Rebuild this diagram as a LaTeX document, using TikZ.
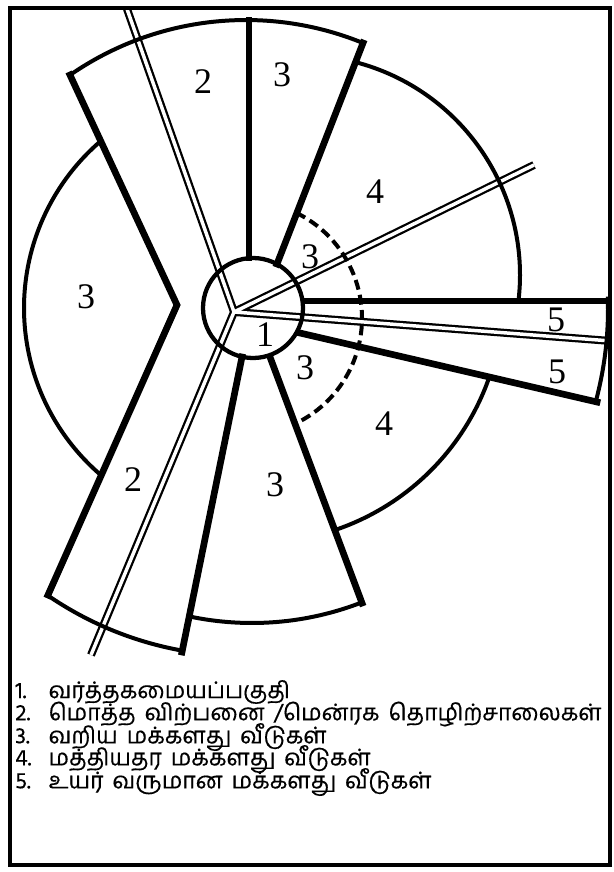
\documentclass[tikz,border=0pt]{standalone}
\usepackage{fontspec}
\newfontfamily\tamilfont[Script=Tamil, FakeBold=0.4, WordSpace=1.6]{Hind Madurai}
\newfontfamily\digitfont{Liberation Serif}

\begin{document}
\begin{tikzpicture}[
  x=0.75pt, y=-0.75pt,
  road/.style={line width=1.7pt, double=white, double distance=2.6pt},
  wall/.style={line width=5pt, line cap=rect},
  rim/.style={line width=3pt},
  zone/.style={font=\digitfont\fontsize{27}{27}\selectfont, inner sep=0pt},
  key/.style={anchor=west, font=\tamilfont\fontsize{17.2}{17.2}\selectfont, inner sep=0pt}
]
\useasboundingbox (0,0) rectangle (614,872);
% roads
\coordinate (J)   at (234,312);
\coordinate (rdA) at (127,9);
\coordinate (rdB) at (91,655);
\coordinate (rdC) at (534,165);
\coordinate (rdD) at (611,341);
\draw[road] (rdA) -- (J) -- (rdB) (J) -- (rdC) (J) -- (rdD);
% sector walls
\draw[wall, line join=miter] (48,595) -- (177,305) -- (70,75);
\draw[wall] (249,20) -- (249,258);
\draw[wall] (363,43) -- (277,264);
\draw[wall] (242,357) -- (182,652);
\draw[wall] (270,357) -- (362,603);
\draw[wall] (305,301) -- (607,301);
\draw[wall] (300,333) -- (597,402);
% outer rims
\coordinate (cTop) at (246,329);
\coordinate (cLft) at (244,308);
\coordinate (cUp4) at (300,275);
\coordinate (cLo4) at (256,296);
\coordinate (cLo3) at (252,320);
\coordinate (cLo2) at (243,311);
\coordinate (cHi5) at (252,309);
\coordinate (cIn3) at (245,318);
\draw[rim] (cTop) ++(-124.7:309) arc[start angle=-124.7, end angle=-67.7, radius=309];
\draw[rim] (cLft) ++(-130.9:220) arc[start angle=-130.9, end angle=-229.5, radius=220];
\draw[rim] (cUp4) ++(-75.5:220) arc[start angle=-75.5, end angle=6.8, radius=220];
\draw[rim] (cLo4) ++(19.2:247) arc[start angle=19.2, end angle=70.9, radius=247];
\draw[rim] (cLo3) ++(101.9:303) arc[start angle=101.9, end angle=68.8, radius=303];
\draw[rim] (cLo2) ++(124.5:345) arc[start angle=124.5, end angle=100.2, radius=345];
\draw[rim] (cHi5) ++(-2:356) arc[start angle=-2, end angle=15.1, radius=356];
\draw[rim, dash pattern=on 7.5pt off 4pt] (cIn3) ++(-64:117) arc[start angle=-64, end angle=64, radius=117];
% central business district
\draw[line width=3.2pt] (253,308) circle[radius=50];
% zone numbers
\node[zone] (z1)  at (265,335) {1};
\node[zone] (z2a) at (203,82)  {2};
\node[zone] (z2b) at (133,480) {2};
\node[zone] (z3a) at (282,75)  {3};
\node[zone] (z3b) at (310,257) {3};
\node[zone] (z3c) at (305,368) {3};
\node[zone] (z3l) at (86,297)  {3};
\node[zone] (z3d) at (275,485) {3};
\node[zone] (z4a) at (375,192) {4};
\node[zone] (z4b) at (384,424) {4};
\node[zone] (z5a) at (556,320) {5};
\node[zone] (z5b) at (557,372) {5};
% legend
\node[key] (k1) at (15,692) {\makebox[25pt][l]{1.}வர்த்தகமையப்பகுதி};
\node[key] (k2) at (15,714) {\makebox[25pt][l]{2.}மொத்த விற்பனை /மென்ரக தொழிற்சாலைகள்};
\node[key] (k3) at (15,737) {\makebox[25pt][l]{3.}வறிய மக்களது வீடுகள்};
\node[key] (k4) at (15,759) {\makebox[25pt][l]{4.}மத்தியதர மக்களது வீடுகள்};
\node[key] (k5) at (15,782) {\makebox[25pt][l]{5.}உயர் வருமான மக்களது வீடுகள்};
% frame
\draw[line width=3.5pt] (10,8) rectangle (610,865);
\end{tikzpicture}
\end{document}
